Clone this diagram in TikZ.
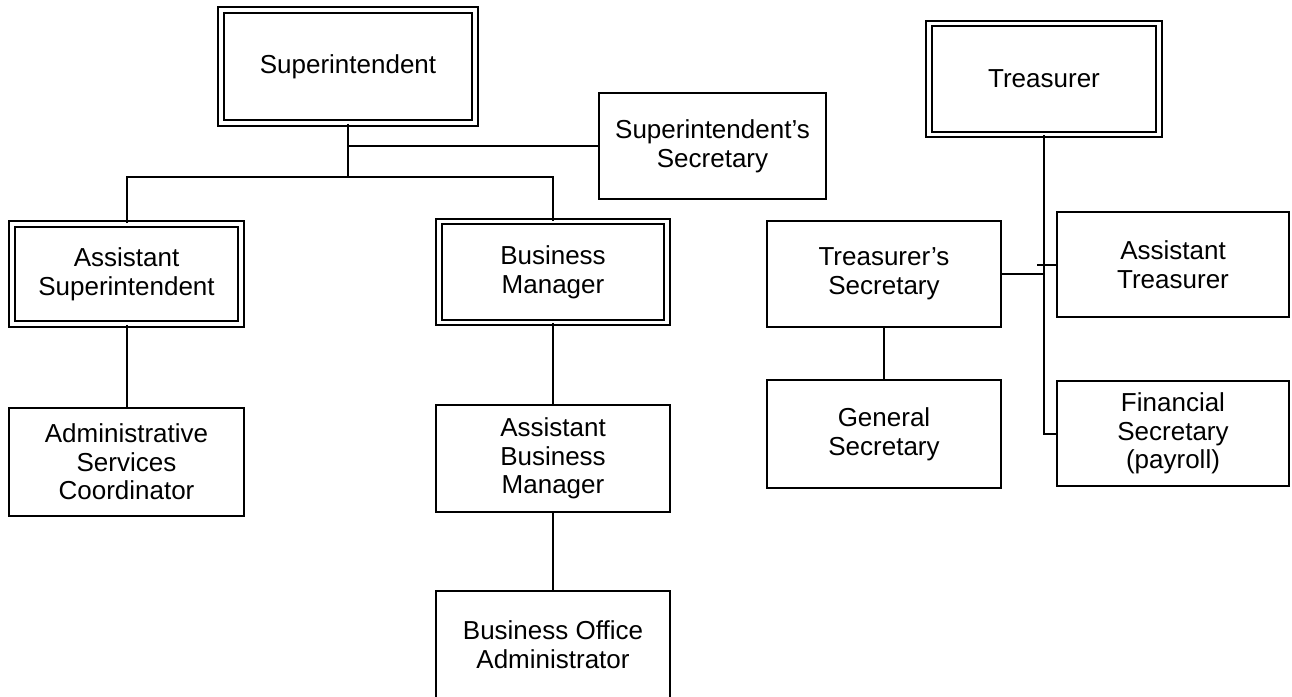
\documentclass[tikz,border=0pt]{standalone}
\usepackage{fontspec}
\setmainfont{Liberation Sans}
\begin{document}
\begin{tikzpicture}[x=0.75pt, y=-0.75pt,
  box/.style={draw=black, line width=1.5pt, align=center, inner sep=0pt,
    font=\fontsize{19.5pt}{21.5pt}\selectfont},
  dbox/.style={box, double=white, double distance=2.5pt, line width=1.4pt},
  bx/.style n args={2}{minimum width=#1*0.75pt, minimum height=#2*0.75pt},
  conn/.style={draw=black, line width=1.5pt}]
\useasboundingbox (0,0) rectangle (1292,696);
\clip (0,0) rectangle (1292,696);
\fill[white] (0,0) rectangle (1292,696);
% left tree
\node[dbox, bx={254}{113}] (sup) at (348,66.5) {Superintendent};
\node[box, bx={227}{106}] (ssec) at (712.5,146) {Superintendent’s\\Secretary};
\node[dbox, bx={229}{100}] (asup) at (126.5,274) {Assistant\\Superintendent};
\node[dbox, bx={228}{101}] (bm) at (553,272) {Business\\Manager};
\node[box, bx={235}{108}] (admin) at (126.5,462) {Administrative\\Services\\Coordinator};
\node[box, bx={234}{107}] (abm) at (553,458.5) {Assistant\\Business\\Manager};
\node[box, bx={234}{107}] (boa) at (553,644.5) {Business Office\\Administrator};
% right tree
\node[dbox, bx={230}{111}] (tres) at (1044,79) {Treasurer};
\node[box, bx={234}{106}] (tsec) at (884,274) {Treasurer’s\\Secretary};
\node[box, bx={232}{105}] (atres) at (1173,264.5) {Assistant\\Treasurer};
\node[box, bx={234}{108}] (gsec) at (884,434) {General\\Secretary};
\node[box, bx={232}{105}] (fsec) at (1173,433.5) {Financial\\Secretary\\(payroll)};
% connectors
\coordinate (bus) at (0,177);
\coordinate (tick) at (1037,264.5);
\draw[conn] (sup.south) |- (ssec.west);
\draw[conn] (sup.south) -- (sup.south |- bus);
\draw[conn] (asup.north) |- (bus -| sup.south) -| (bm.north);
\draw[conn] (asup.south) -- (admin.north);
\draw[conn] (bm.south) -- (abm.north);
\draw[conn] (abm.south) -- (boa.north);
\draw[conn] (tres.south) |- (fsec.west);
\draw[conn] (tick) -- (atres.west);
\draw[conn] (tsec.east) -- (tsec.east -| tres.south);
\draw[conn] (tsec.south) -- (gsec.north);
\end{tikzpicture}
\end{document}
